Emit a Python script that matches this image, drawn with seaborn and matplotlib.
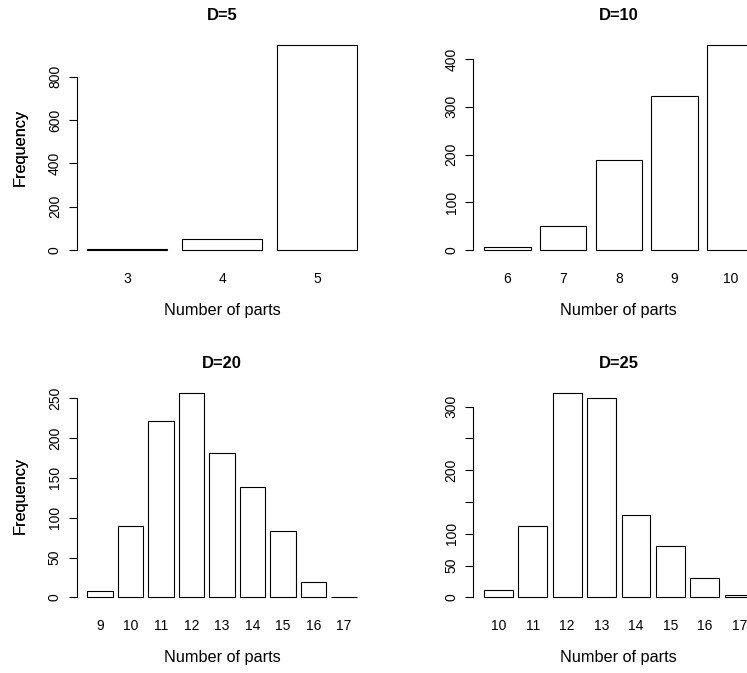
import matplotlib
matplotlib.use("Agg")
import matplotlib.pyplot as plt
import seaborn as sns
import pandas as pd

# ---- data ----
parts_d5 = ["3", "4", "5"]
freq_d5 = [2, 52, 946]

parts_d10 = ["6", "7", "8", "9", "10"]
freq_d10 = [6, 51, 189, 323, 429]

parts_d20 = ["9", "10", "11", "12", "13", "14", "15", "16", "17"]
freq_d20 = [8, 90, 222, 257, 181, 139, 83, 19, 1]

parts_d25 = ["10", "11", "12", "13", "14", "15", "16", "17"]
freq_d25 = [11, 112, 322, 313, 129, 80, 30, 3]

titles = ["D=5", "D=10", "D=20", "D=25"]
yticks_d5 = [0, 200, 400, 600, 800]
yticks_d10 = [0, 100, 200, 300, 400]
yticks_d20 = [0, 50, 100, 150, 200, 250]
yticks_d25 = [0, 50, 100, 150, 200, 250, 300]
yticklabels_d25 = ["0", "50", "100", "", "200", "", "300"]

sns.set_style("white")
plt.rcParams["font.family"] = ["Liberation Sans", "DejaVu Sans"]
plt.rcParams["text.color"] = "black"
plt.rcParams["axes.labelcolor"] = "black"
plt.rcParams["xtick.color"] = "black"
plt.rcParams["ytick.color"] = "black"

W, H = 747, 673
fig = plt.figure(figsize=(W / 100, H / 100), dpi=100)

def px_axes(left, top, width, height):
    return fig.add_axes([left / W, 1 - (top + height) / H, width / W, height / H])

panels = [
    (parts_d5, freq_d5, titles[0], yticks_d5, None, (76.5, 37.1)),
    (parts_d10, freq_d10, titles[1], yticks_d10, None, (473.3, 37.1)),
    (parts_d20, freq_d20, titles[2], yticks_d20, None, (76.5, 384.5)),
    (parts_d25, freq_d25, titles[3], yticks_d25, yticklabels_d25, (473.3, 384.5)),
]

PW, PH = 291.0, 221.0
bar_w = 1 / 1.2

for parts, freq, title, yt, ytl, (lx, ty) in panels:
    ax = px_axes(lx, ty, PW, PH)
    df = pd.DataFrame({"parts": parts, "freq": freq})
    sns.barplot(data=df, x="parts", y="freq", order=parts, color="white",
                saturation=1, edgecolor="black", linewidth=0.8, width=bar_w,
                ax=ax, errorbar=None)
    n = len(parts)
    r = n - 1 + bar_w
    ax.set_xlim(-bar_w / 2 - 0.04 * r, n - 1 + bar_w / 2 + 0.04 * r)
    m = max(freq)
    ax.set_ylim(-0.04 * m, 1.04 * m)

    ax.set_yticks(yt)
    if ytl is not None:
        ax.set_yticklabels(ytl)
    for s in ["top", "right", "bottom"]:
        ax.spines[s].set_visible(False)
    ax.spines["left"].set_bounds(yt[0], yt[-1])
    ax.spines["left"].set_linewidth(0.8)
    ax.spines["left"].set_color("black")

    ax.tick_params(axis="y", length=5.5, width=0.8, color="black", direction="out",
                   labelsize=10, pad=5.0, labelrotation=90, left=True,
                   labelcolor="black")
    for lab in ax.get_yticklabels():
        lab.set_va("center")
    ax.tick_params(axis="x", length=0, labelsize=10, pad=9.8, labelcolor="black")

    ax.set_xlabel("Number of parts", fontsize=11.7, color="black")
    ax.set_ylabel("Frequency", fontsize=11.7, color="black")
    ax.xaxis.label.set_va("top")
    ax.xaxis.set_label_coords(0.5, (PH - (303 - 37.1)) / PH)
    ax.yaxis.set_label_coords((28.0 - lx) / PW, 0.5)
    ax.set_title(title, fontsize=11.9, fontweight="bold", pad=12, color="black")
    ax.grid(False)

fig.savefig("out.png", dpi=100)
